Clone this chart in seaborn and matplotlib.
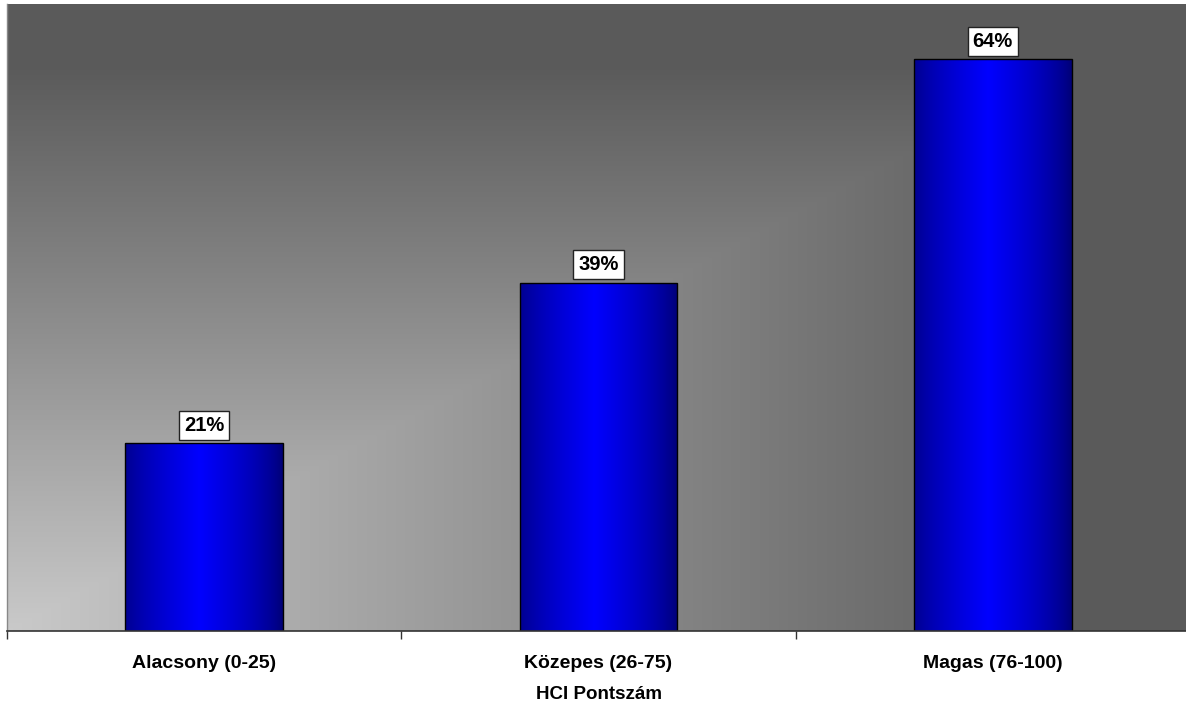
import numpy as np
import pandas as pd
import matplotlib
matplotlib.use("Agg")
import matplotlib.pyplot as plt
import seaborn as sns

categories = ["Alacsony (0-25)", "Közepes (26-75)", "Magas (76-100)"]
values = [21, 39, 64]
value_labels = ["21%", "39%", "64%"]
x_title = "HCI Pontszám"

df = pd.DataFrame({"cat": categories, "val": values})

sns.set_theme(style="white")
plt.rcParams["font.family"] = ["Liberation Sans", "DejaVu Sans"]

W, H = 1186, 704
fig = plt.figure(figsize=(W / 100, H / 100), dpi=100)
ax = fig.add_axes([7 / W, (H - 631) / H, (1190 - 7) / W, (631 - 4) / H])

sns.barplot(data=df, x="cat", y="val", ax=ax, width=0.4, color="#0000ff",
            edgecolor="black", linewidth=1.0, zorder=3)

ax.set_xlim(-0.5, 2.5)
ax.set_ylim(0, 70.2)

# background gradient (from bottom-left corner)
n = 400
u = np.linspace(0, 1, n)[None, :]
v = np.linspace(0, 1, n)[:, None]
t = np.clip(np.maximum(u, v) / 0.9, 0, 1)
light, dark = 0.79, 0.355
g = light * (1 - t) + dark * t
bg = np.dstack([g, g, g])
ax.imshow(bg, extent=[-0.5, 2.5, 0, 70.2], origin="lower", aspect="auto",
          zorder=0, interpolation="bilinear")

# bar gradients
xs = np.linspace(0, 1, 200)
prof = 1 - np.abs(xs - 0.47) / 0.53
prof = np.clip(prof, 0, 1) ** 0.7
edge_b, center_b = 0.45, 1.0
b = edge_b + (center_b - edge_b) * prof
bar_img = np.zeros((2, len(xs), 3))
bar_img[:, :, 2] = b[None, :]
for p in ax.patches:
    x0, y0 = p.get_x(), p.get_y()
    w, h = p.get_width(), p.get_height()
    im = ax.imshow(bar_img, extent=[x0, x0 + w, y0, y0 + h], origin="lower",
                   aspect="auto", zorder=3.5, interpolation="bilinear")
    im.set_clip_path(p)
    p.set_facecolor("none")
    p.set_zorder(4)

# value labels
for i, (val, lab) in enumerate(zip(values, value_labels)):
    ax.annotate(lab, xy=(i, val), xytext=(0, 6), textcoords="offset points",
                ha="center", va="bottom", fontsize=14.5, fontweight="bold",
                color="black", zorder=6,
                bbox=dict(boxstyle="square,pad=0.24", fc="white", ec="#222222", lw=1.0))

ax.set_xlabel(x_title, fontsize=13.5, fontweight="bold", labelpad=10.5, color="black")
ax.set_ylabel("")
ax.set_yticks([])
ax.set_xticks(range(len(categories)))
ax.set_xticklabels(categories, fontsize=14, fontweight="bold", color="black")
ax.set_xticks([-0.5, 0.5, 1.5, 2.5], minor=True)
ax.tick_params(axis="x", which="major", length=0, pad=17)
ax.tick_params(axis="x", which="minor", length=6, width=1, color="#333333",
               direction="out", bottom=True)

for s in ["top", "right"]:
    ax.spines[s].set_visible(False)
ax.spines["left"].set_color("#888888")
ax.spines["left"].set_linewidth(1)
ax.spines["bottom"].set_color("#333333")
ax.spines["bottom"].set_linewidth(1.2)
ax.spines["bottom"].set_zorder(5)

fig.savefig("out.png", dpi=100)
